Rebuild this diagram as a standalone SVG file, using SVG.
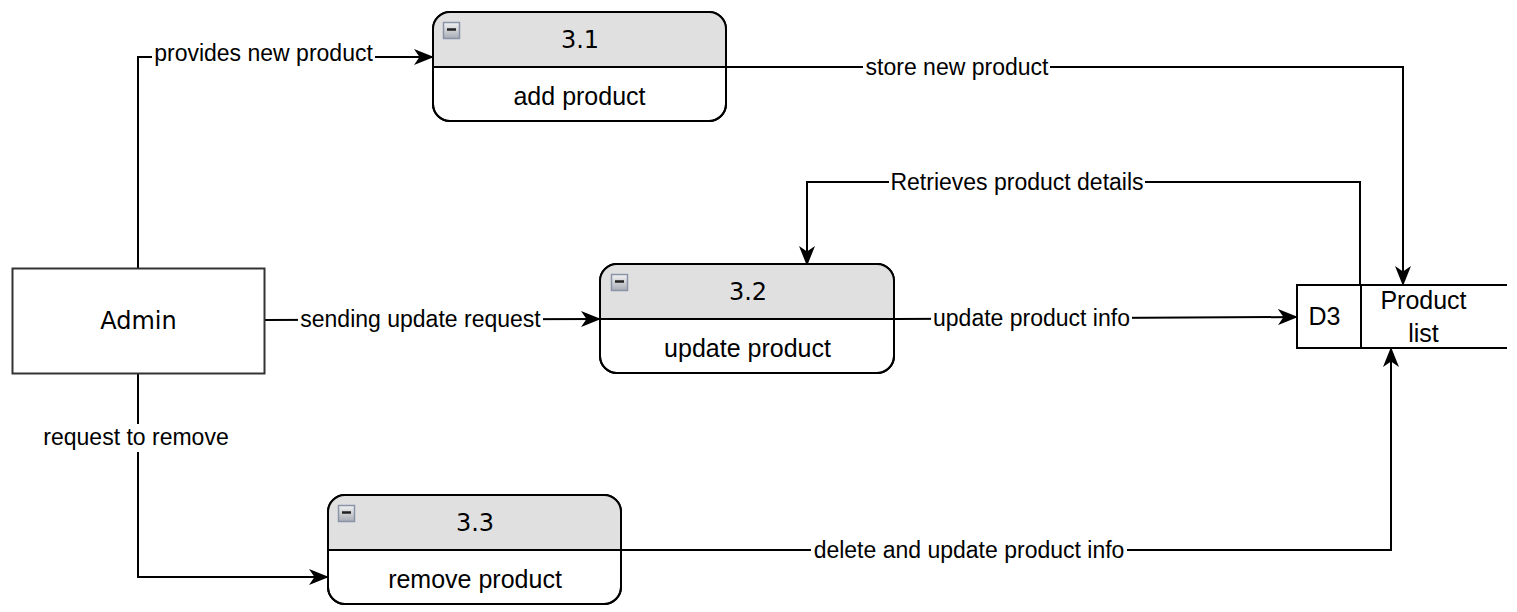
<svg xmlns="http://www.w3.org/2000/svg" width="1517" height="612" viewBox="0 0 1517 612">
<style>
  .proc { fill: #ffffff; stroke: #000000; stroke-width: 2; }
  .hdr { fill: #e0e0e0; stroke: none; }
  .sep { stroke: #000000; stroke-width: 2; fill: none; }
  .num { font-family: "DejaVu Sans", sans-serif; font-size: 24px; text-anchor: middle; fill: #000000; }
  .body { font-family: "Liberation Sans", Arial, sans-serif; font-size: 25px; text-anchor: middle; fill: #000000; }
  .lbl { font-family: "Liberation Sans", Arial, sans-serif; font-size: 23px; text-anchor: middle; fill: #000000; }
  .lblbg { fill: #ffffff; stroke: none; }
  .edge { fill: none; stroke: #000000; stroke-width: 2; }
  .arrow { marker-end: url(#arr); }
  .icon { fill: url(#ig); stroke: #8a94a8; stroke-width: 1.5; }
  .minus { stroke: #222222; stroke-width: 2.5; }
</style>
<defs>
  <marker id="arr" viewBox="0 0 20 16" refX="19" refY="8" markerWidth="20" markerHeight="16" markerUnits="userSpaceOnUse" orient="auto">
    <path d="M0,0 L20,8 L0,16 L5.5,8 Z" fill="#000000"/>
  </marker>
  <linearGradient id="ig" x1="0" y1="0" x2="0" y2="1">
    <stop offset="0" stop-color="#f2f2f2"/>
    <stop offset="1" stop-color="#a8acb4"/>
  </linearGradient>
  <clipPath id="c31"><rect x="433" y="12" width="293" height="109" rx="17"/></clipPath>
  <clipPath id="c32"><rect x="600" y="264" width="294" height="109" rx="17"/></clipPath>
  <clipPath id="c33"><rect x="328" y="495" width="293" height="109" rx="17"/></clipPath>
</defs>
<rect x="0" y="0" width="1517" height="612" fill="#ffffff"/>

<g id="connectors">
  <path class="edge arrow" d="M138,268 L138,57 L433,57"/>
  <rect class="lblbg" x="152" y="45" width="223" height="24"/>
  <text class="lbl" x="263.5" y="61">provides new product</text>
  <path class="edge arrow" d="M726,67 L1403,67 L1403,285"/>
  <rect class="lblbg" x="863" y="55" width="187" height="24"/>
  <text class="lbl" x="957" y="75">store new product</text>
  <path class="edge arrow" d="M1360,285 L1360,182 L807,182 L807,265"/>
  <rect class="lblbg" x="889" y="170" width="256" height="24"/>
  <text class="lbl" x="1017" y="190">Retrieves product details</text>
  <path class="edge arrow" d="M264,320 L600,319"/>
  <rect class="lblbg" x="298" y="308" width="245" height="24"/>
  <text class="lbl" x="420.5" y="327">sending update request</text>
  <path class="edge arrow" d="M894,319 L1297,317"/>
  <rect class="lblbg" x="931" y="306" width="201" height="24"/>
  <text class="lbl" x="1031.5" y="326">update product info</text>
  <path class="edge arrow" d="M138,374 L138,577 L328,577"/>
  <rect class="lblbg" x="40" y="424" width="196" height="28"/>
  <text class="lbl" x="136" y="445">request to remove</text>
  <path class="edge arrow" d="M621,550 L1391,550 L1391,348"/>
  <rect class="lblbg" x="811" y="538" width="316" height="24"/>
  <text class="lbl" x="969" y="558">delete and update product info</text>
</g>

<g id="admin">
  <rect x="12.5" y="268.5" width="252" height="105" fill="#ffffff" stroke="#333333" stroke-width="2"/>
  <text class="num" x="138.5" y="329">Admin</text>
</g>

<g id="p31">
  <rect class="proc" x="433" y="12" width="293" height="109" rx="17"/>
  <rect class="hdr" x="433" y="12" width="293" height="55" clip-path="url(#c31)"/>
  <rect x="433" y="12" width="293" height="109" rx="17" fill="none" stroke="#000" stroke-width="2"/>
  <line class="sep" x1="433" y1="67" x2="726" y2="67"/>
  <rect class="icon" x="443.5" y="22.5" width="16" height="16"/>
  <line class="minus" x1="447" y1="29.5" x2="456" y2="29.5"/>
  <text class="num" x="580" y="48">3.1</text>
  <text class="body" x="579.5" y="105">add product</text>
</g>

<g id="p32">
  <rect class="proc" x="600" y="264" width="294" height="109" rx="17"/>
  <rect class="hdr" x="600" y="264" width="294" height="55" clip-path="url(#c32)"/>
  <rect x="600" y="264" width="294" height="109" rx="17" fill="none" stroke="#000" stroke-width="2"/>
  <line class="sep" x1="600" y1="319" x2="894" y2="319"/>
  <rect class="icon" x="611.5" y="274.5" width="16" height="16"/>
  <line class="minus" x1="615" y1="281.5" x2="624" y2="281.5"/>
  <text class="num" x="748" y="300">3.2</text>
  <text class="body" x="747.5" y="357">update product</text>
</g>

<g id="p33">
  <rect class="proc" x="328" y="495" width="293" height="109" rx="17"/>
  <rect class="hdr" x="328" y="495" width="293" height="55" clip-path="url(#c33)"/>
  <rect x="328" y="495" width="293" height="109" rx="17" fill="none" stroke="#000" stroke-width="2"/>
  <line class="sep" x1="328" y1="550" x2="621" y2="550"/>
  <rect class="icon" x="338.5" y="505.5" width="16" height="16"/>
  <line class="minus" x1="342" y1="512.5" x2="351" y2="512.5"/>
  <text class="num" x="475" y="531">3.3</text>
  <text class="body" x="475" y="588">remove product</text>
</g>

<g id="d3">
  <rect x="1297" y="285" width="210" height="63" fill="#ffffff" stroke="none"/>
  <path d="M1507,285 L1297,285 L1297,348 L1507,348 M1361,285 L1361,348" fill="none" stroke="#000000" stroke-width="2"/>
  <text class="body" x="1324.5" y="325">D3</text>
  <text class="body" x="1423.5" y="309">Product</text>
  <text class="body" x="1423.5" y="342">list</text>
</g>
</svg>
